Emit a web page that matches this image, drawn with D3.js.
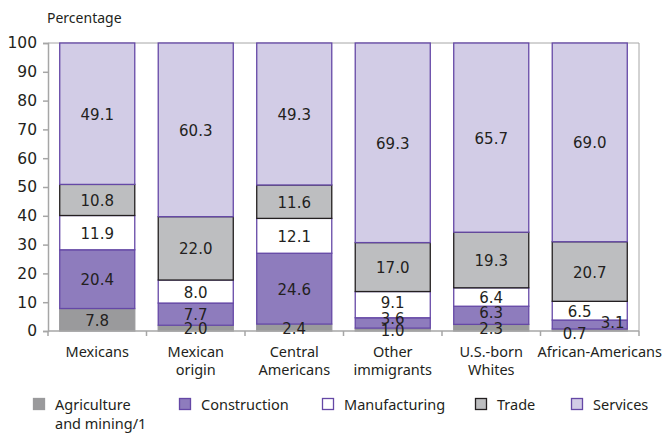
<!DOCTYPE html>
<html><head><meta charset="utf-8">
<script src="https://cdn.jsdelivr.net/npm/d3@7"></script>
<style>body{margin:0;background:#fff}svg{display:block}text{font-family:"Noto Sans","Open Sans",sans-serif;fill:#231f20}.num{font-family:"DejaVu Sans",sans-serif}</style>
</head><body><svg id="c" width="663" height="434"></svg>
<script>
const categories = ["Mexicans","Mexican\norigin","Central\nAmericans","Other\nimmigrants","U.S.-born\nWhites","African-Americans"];
const seriesNames = ["Agriculture and mining/1","Construction","Manufacturing","Trade","Services"];
const agriculture   = [7.8, 2.0, 2.4, 1.0, 2.3, 0.7];
const construction  = [20.4, 7.7, 24.6, 3.6, 6.3, 3.1];
const manufacturing = [11.9, 8.0, 12.1, 9.1, 6.4, 6.5];
const trade         = [10.8, 22.0, 11.6, 17.0, 19.3, 20.7];
const services      = [49.1, 60.3, 49.3, 69.3, 65.7, 69.0];
const yTicks = [0,10,20,30,40,50,60,70,80,90,100];

const series = [agriculture, construction, manufacturing, trade, services];
const fills   = ["#9a9a9c","#8e7cbd","#ffffff","#bdbec0","#d2cce6"];
const strokes = ["#9a9a9c","#6548a6","#6548a6","#231f20","#6548a6"];

const svg = d3.select("#c");
const L = 48, R = 639, T = 43, B = 331;
const x = d3.scaleBand().domain(d3.range(categories.length)).range([L, R]).paddingInner(0.228).paddingOuter(0.114);
const y = d3.scaleLinear().domain([0,100]).range([B, T]);

const table = categories.map((c,i)=>{const o={i}; seriesNames.forEach((s,k)=>o[s]=series[k][i]); return o;});
const stacked = d3.stack().keys(seriesNames)(table);

// frame top/right
svg.append("line").attr("x1",L).attr("x2",R).attr("y1",T).attr("y2",T).attr("stroke","#a6a6a6").attr("stroke-width",1);
svg.append("line").attr("x1",R).attr("x2",R).attr("y1",T).attr("y2",B).attr("stroke","#a6a6a6").attr("stroke-width",1);

// bars
stacked.forEach((layer,k)=>{
  svg.append("g").selectAll("rect").data(layer).join("rect")
    .attr("x",d=>x(d.data.i)+0.5).attr("width",x.bandwidth()-1)
    .attr("y",d=>y(d[1])).attr("height",d=>y(d[0])-y(d[1]))
    .attr("fill",fills[k]).attr("stroke",strokes[k]).attr("stroke-width",1.3);
});

// axes
const yAxis = d3.axisLeft(y).tickValues(yTicks).tickSize(5).tickPadding(6);
const gy = svg.append("g").attr("transform",`translate(${L},0)`).call(yAxis);
gy.select(".domain").attr("stroke","#a6a6a6").attr("stroke-width",1.5);
gy.selectAll(".tick line").attr("stroke","#a6a6a6").attr("stroke-width",1.5);
gy.selectAll("text").attr("class","num").style("font-size","15.5px").attr("fill","#231f20");

svg.append("line").attr("x1",L).attr("x2",R).attr("y1",B).attr("y2",B).attr("stroke","#a6a6a6").attr("stroke-width",1.5);
d3.range(categories.length+1).forEach(i=>{
  const xx = L + i*(R-L)/categories.length;
  svg.append("line").attr("x1",xx).attr("x2",xx).attr("y1",B).attr("y2",B+5).attr("stroke","#a6a6a6").attr("stroke-width",1.5);
});

// category labels
const catShift = [0,0,0,0,0,10];
categories.forEach((c,i)=>{
  const cx = x(i)+x.bandwidth()/2+catShift[i];
  const t = svg.append("text").attr("text-anchor","middle").style("font-size","14.5px").attr("y", 357);
  c.split("\n").forEach((ln,j)=>t.append("tspan").attr("x",cx).attr("dy", j?18:0).text(ln));
});

svg.append("text").attr("x",47).attr("y",23).style("font-size","14px").text("Percentage");

// value labels
const labelShift = {"5-0":[-15,3],"5-1":[23,-3],"5-2":[-10,0],"3-1":[0,-5],"3-2":[0,-3],"4-1":[0,-3]};
stacked.forEach((layer,k)=>{
  layer.forEach(d=>{
    const key = d.data.i+"-"+k;
    const sh = labelShift[key]||[0,0];
    svg.append("text").attr("class","num").attr("text-anchor","middle").attr("dominant-baseline","central")
      .style("font-size","15px")
      .attr("x", x(d.data.i)+x.bandwidth()/2+sh[0])
      .attr("y", (y(d[0])+y(d[1]))/2+sh[1]+1)
      .text(series[k][d.data.i].toFixed(1));
  });
});

// legend
const legX = [33, 179, 322, 475, 571];
const legLabels = [["Agriculture","and mining/1"],["Construction"],["Manufacturing"],["Trade"],["Services"]];
seriesNames.forEach((s,k)=>{
  svg.append("rect").attr("x",legX[k]+0.5).attr("y",398.5).attr("width",11).attr("height",11)
    .attr("fill",fills[k]).attr("stroke",strokes[k]).attr("stroke-width",1.3);
  const t = svg.append("text").attr("x",legX[k]+22).attr("y",410).style("font-size","14.5px");
  legLabels[k].forEach((ln,j)=>t.append("tspan").attr("x",legX[k]+22).attr("dy",j?19:0).text(ln));
});
</script></body></html>
